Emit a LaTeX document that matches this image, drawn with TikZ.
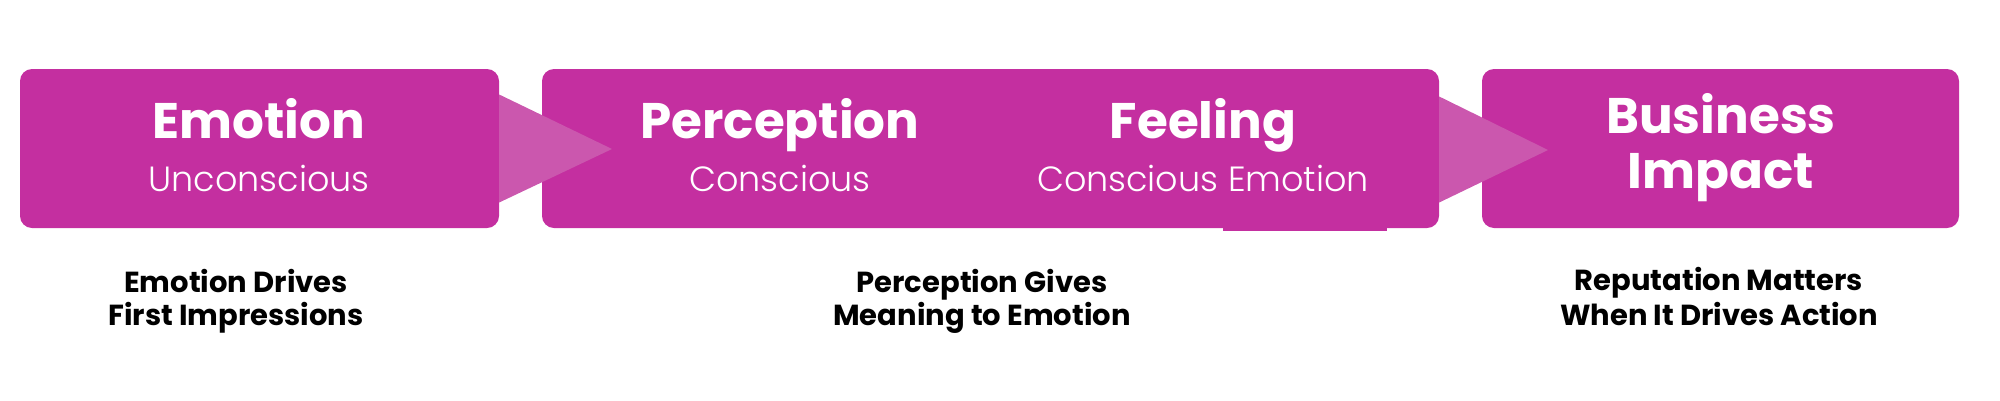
\documentclass[tikz,border=0pt]{standalone}
\usepackage{fontspec}
\setmainfont{Poppins}
\newfontfamily\lightfont{Poppins Light}
\usepackage{xcolor}
\definecolor{boxpink}{HTML}{C42FA0}
\definecolor{arrowpink}{HTML}{CB57AE}

\begin{document}
\begin{tikzpicture}[x=1pt, y=-1pt,
  box/.style={rectangle, fill=boxpink, rounded corners=12pt, inner sep=0pt, minimum height=159pt},
  title/.style={anchor=base, text=white, inner sep=0pt, font=\fontsize{50}{55}\selectfont\bfseries},
  subtitle/.style={anchor=base, text=white, inner sep=0pt, font=\lightfont\fontsize{35}{40}\selectfont},
  note/.style={anchor=base, text=black, inner sep=0pt, font=\fontsize{29}{34}\selectfont\bfseries}]
\useasboundingbox (0,0) rectangle (2000,400);
% Boxes
\node[box, minimum width=479pt] (box1) at (259.5,148.5) {};
\node[box, minimum width=897pt] (box2) at (990.5,148.5) {};
\node[box, minimum width=477pt] (box3) at (1720.5,148.5) {};
\fill[boxpink] (1223,226) rectangle (1387,230.5);
% Arrows
\coordinate (tip1) at (612,149);
\coordinate (tip2) at (1548,150);
\fill[arrowpink] ([yshift=54pt]box1.east) -- (tip1) -- ([yshift=-54pt]box1.east) -- cycle;
\fill[arrowpink] ([yshift=52pt]box2.east) -- (tip2) -- ([yshift=-54pt]box2.east) -- cycle;
% Box texts
\node[title] (title1) at (259,138) {Emotion};
\node[subtitle] (sub1) at (259,191) {Unconscious};
\node[title] (title21) at (780,138) {Perception};
\node[subtitle] (sub21) at (780,191) {Conscious};
\node[title] (title22) at (1203,138) {Feeling};
\node[subtitle] (sub22) at (1203,191) {Conscious Emotion};
\node[title] (title31) at (1721,133) {Business};
\node[title] (title32) at (1721,188) {Impact};
% Notes
\node[note] (note11) at (236,292) {Emotion Drives};
\node[note] (note12) at (236,325) {First Impressions};
\node[note] (note21) at (982,292) {Perception Gives};
\node[note] (note22) at (982,325) {Meaning to Emotion};
\node[note] (note31) at (1719,290) {Reputation Matters};
\node[note] (note32) at (1719,325) {When It Drives Action};
\end{tikzpicture}
\end{document}
